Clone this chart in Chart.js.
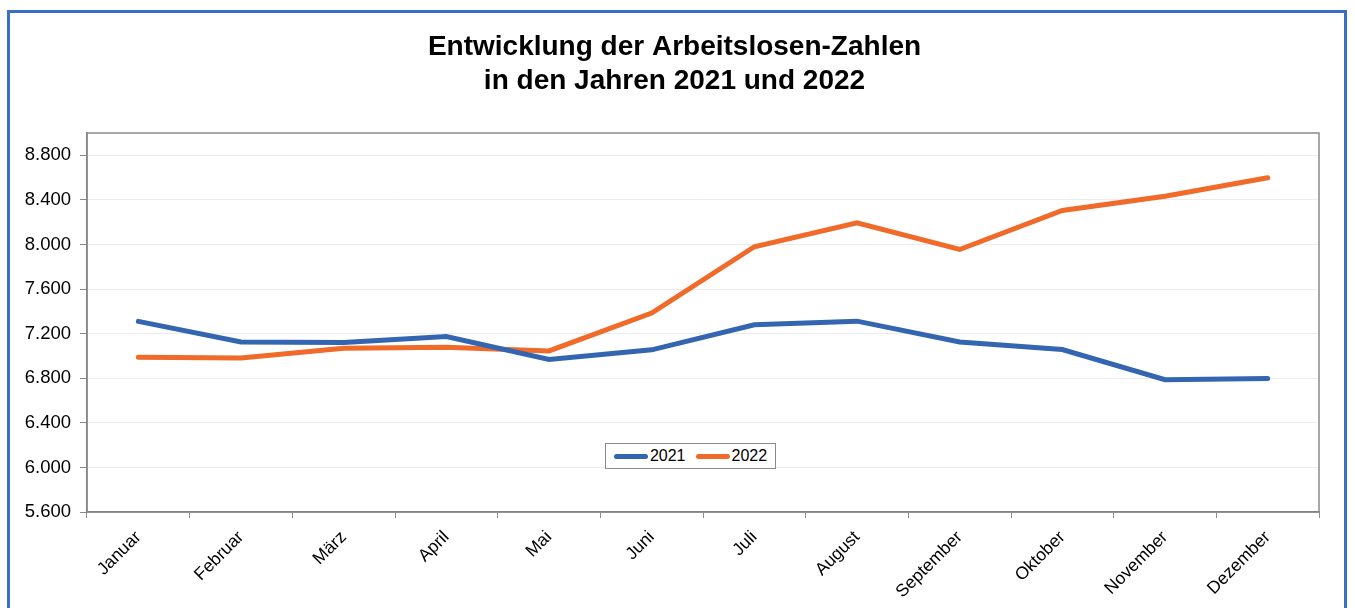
<!DOCTYPE html>
<html>
<head>
<meta charset="utf-8">
<script src="https://cdn.jsdelivr.net/npm/chart.js@4.4.1/dist/chart.umd.min.js"></script>
<style>
  html, body { margin: 0; padding: 0; background: #fff; }
  #wrap { position: relative; width: 1355px; height: 608px; overflow: hidden; }
  #frame { position: absolute; left: 7px; top: 10px; width: 1340px; height: 620px; border: 3px solid #3a70c4; box-sizing: border-box; }
  canvas { position: absolute; left: 0; top: 0; }
  #legend { position: absolute; left: 605px; top: 443px; width: 171px; height: 26px; box-sizing: border-box;
            border: 1px solid #8a8a8a; background: #fff; display: flex; align-items: center; justify-content: center;
            font: 16px "Liberation Sans", Arial, sans-serif; color: #000; gap: 10px; }
  .li { display: flex; align-items: center; }
  .sw { display: inline-block; width: 34px; height: 5px; border-radius: 2.5px; margin-right: 2px; }
</style>
</head>
<body>
<div id="wrap">
  <div id="frame"></div>
  <canvas id="c" width="1355" height="608"></canvas>
  <div id="legend"></div>
</div>
<script>
const categories = ["Januar","Februar","März","April","Mai","Juni","Juli","August","September","Oktober","November","Dezember"];
const series2021 = [7310, 7125, 7120, 7175, 6968, 7055, 7280, 7312, 7125, 7058, 6787, 6797];
const series2022 = [6988, 6982, 7068, 7078, 7045, 7385, 7980, 8195, 7955, 8305, 8433, 8598];
const seriesNames = ["2021", "2022"];
const seriesColors = ["#3465b1", "#f06a2a"];
const titleLines = ["Entwicklung der Arbeitslosen-Zahlen", "in den Jahren 2021 und 2022"];
const yMin = 5600, yMax = 9000, yStep = 400;

const FONT = '"Liberation Sans", Arial, sans-serif';

const frameBorder = {
  id: 'frameBorder',
  afterLayout(chart) {
    // centre the title over the framed picture rather than over the padded canvas
    if (chart.titleBlock) { chart.titleBlock.left = 30; chart.titleBlock.right = 1319; }
  },
  afterDatasetsDraw(chart) {
    const a = chart.chartArea, ctx = chart.ctx;
    ctx.save();
    ctx.strokeStyle = '#8a8a8a';
    ctx.lineWidth = 1.5;
    ctx.strokeRect(a.left, a.top, a.right - a.left, a.bottom - a.top);
    ctx.restore();
  }
};

const chart = new Chart(document.getElementById('c'), {
  type: 'line',
  data: {
    labels: categories,
    datasets: [
      { label: seriesNames[0], data: series2021, borderColor: seriesColors[0], backgroundColor: seriesColors[0],
        borderWidth: 5, pointRadius: 0, tension: 0, borderCapStyle: 'round' },
      { label: seriesNames[1], data: series2022, borderColor: seriesColors[1], backgroundColor: seriesColors[1],
        borderWidth: 5, pointRadius: 0, tension: 0, borderCapStyle: 'round' }
    ]
  },
  options: {
    responsive: false,
    animation: false,
    layout: { padding: { left: 0, right: 36, top: 0, bottom: 0 } },
    plugins: {
      legend: { display: false },
      tooltip: { enabled: false },
      title: {
        display: true,
        text: titleLines,
        color: '#000',
        font: { family: FONT, size: 28, weight: 'bold', lineHeight: 1.22 },
        padding: { top: 30, bottom: 34.7 }
      }
    },
    scales: {
      x: {
        offset: true,
        grid: { display: true, drawOnChartArea: false, offset: true, tickLength: 6, tickColor: '#8a8a8a', color: '#8a8a8a' },
        border: { display: true, color: '#707070', width: 1.5 },
        ticks: { color: '#000', font: { family: FONT, size: 17.5 }, maxRotation: 45, minRotation: 45, padding: 9, autoSkip: false },
        afterFit(s) { s.height = 96; }
      },
      y: {
        min: yMin, max: yMax,
        grid: {
          color: (c) => (c.tick && c.tick.value === yMax) ? 'rgba(0,0,0,0)' : '#ececec',
          lineWidth: 1, tickLength: 7,
          tickColor: (c) => (c.tick && c.tick.value === yMax) ? 'rgba(0,0,0,0)' : '#8a8a8a'
        },
        border: { display: true, color: '#707070', width: 1.5 },
        ticks: {
          stepSize: yStep,
          color: '#000',
          font: { family: FONT, size: 18.5 },
          padding: 9,
          callback(v) {
            if (v === yMax) return '';
            return v.toLocaleString('de-DE', { minimumFractionDigits: 0 }).replace(/,/g, '.');
          }
        },
        afterFit(s) { s.width = 87; }
      }
    }
  },
  plugins: [frameBorder]
});

const lg = document.getElementById('legend');
chart.data.datasets.forEach(ds => {
  const item = document.createElement('span');
  item.className = 'li';
  const sw = document.createElement('span');
  sw.className = 'sw';
  sw.style.background = ds.borderColor;
  item.appendChild(sw);
  item.appendChild(document.createTextNode(ds.label));
  lg.appendChild(item);
});
</script>
</body>
</html>
